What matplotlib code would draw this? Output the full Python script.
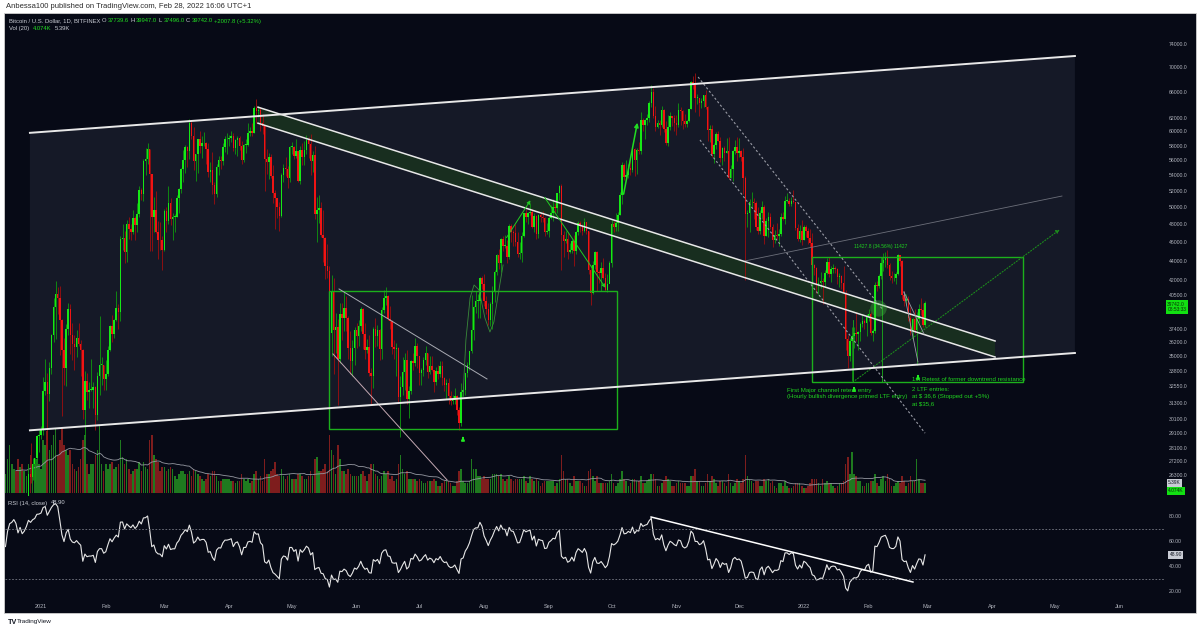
import numpy as np
import pandas as pd
import matplotlib
matplotlib.use("Agg")
import matplotlib.pyplot as plt
import matplotlib.transforms as mtransforms
from matplotlib.patches import Polygon, Rectangle
from matplotlib.ticker import NullLocator

plt.rcParams['font.family'] = ['Liberation Sans', 'DejaVu Sans']

# ---------------- DATA (BTC/USD daily, Bitfinex, prices in thousands USD) ----------------
START_DATE = '2020-12-01'
FIRST_OPEN_K = 19.7

close_k = [
    # Dec 2020
    18.8, 19.2, 19.4, 18.7, 19.1, 19.4, 19.2, 18.3, 18.6, 18.2, 18.0, 18.8, 19.1, 19.2,
    19.4, 21.3, 22.8, 23.1, 23.8, 23.5, 22.7, 23.8, 23.2, 23.7, 24.7, 26.4, 26.2, 27.0, 27.4, 28.9, 29.0,
    # Jan 2021
    29.4, 32.2, 32.9, 32.0, 34.0, 36.8, 39.4, 40.6, 40.2, 38.2, 35.5, 34.0, 37.4, 39.2, 36.8, 36.0,
    35.8, 36.6, 36.0, 35.5, 30.8, 33.0, 32.1, 32.3, 32.3, 32.5, 30.4, 33.4, 34.3, 34.3, 33.1,
    # Feb 2021
    33.5, 35.5, 37.6, 36.9, 38.2, 39.3, 38.9, 46.4, 46.5, 44.9, 48.0, 47.5, 47.1, 48.7,
    47.9, 49.2, 52.2, 51.6, 55.9, 56.1, 57.5, 54.2, 48.9, 49.7, 47.1, 46.3, 46.2, 45.2,
    # Mar 2021
    49.6, 48.4, 50.5, 48.6, 48.9, 48.9, 51.2, 52.3, 54.8, 56.0, 57.8, 57.3, 61.2, 59.3, 55.9, 56.8,
    58.9, 57.9, 58.3, 58.3, 57.5, 54.5, 54.7, 52.8, 51.7, 55.1, 56.0, 55.9, 57.8, 58.9, 58.9,
    # Apr 2021
    59.1, 59.4, 57.6, 58.8, 59.1, 58.0, 56.0, 58.1, 58.1, 59.8, 60.0, 59.8, 63.5, 63.0, 63.1,
    61.3, 60.8, 56.2, 55.7, 56.5, 53.9, 51.8, 51.1, 50.1, 49.0, 54.0, 55.0, 54.8, 53.6, 57.8,
    # May 2021
    57.8, 56.6, 57.2, 53.3, 57.4, 56.4, 57.4, 58.8, 58.2, 55.9, 56.7, 49.2, 49.7, 49.9, 46.8, 46.5,
    43.5, 42.9, 37.0, 40.8, 37.3, 37.5, 34.8, 38.7, 38.4, 39.3, 38.4, 35.7, 34.6, 35.7, 37.3,
    # Jun 2021
    36.7, 37.6, 39.2, 36.9, 35.5, 35.8, 33.6, 33.4, 37.4, 36.7, 37.3, 35.6, 39.1, 40.2, 40.4,
    38.3, 38.1, 35.8, 35.6, 35.7, 31.7, 32.5, 33.7, 34.7, 31.6, 32.2, 34.6, 34.4, 35.9, 35.0,
    # Jul 2021
    33.6, 33.9, 34.7, 35.3, 33.7, 34.2, 33.9, 32.9, 33.8, 33.5, 34.2, 33.2, 32.7, 32.8, 31.8, 31.4,
    31.5, 31.8, 30.8, 29.8, 32.1, 32.3, 33.6, 34.3, 35.4, 37.3, 39.4, 40.0, 40.0, 42.2, 41.6,
    # Aug 2021
    40.0, 39.2, 38.2, 39.7, 40.9, 42.8, 44.6, 43.8, 46.4, 45.6, 45.6, 44.4, 47.8, 47.1, 47.0, 46.0,
    44.7, 44.8, 46.7, 49.3, 48.9, 49.3, 49.5, 47.7, 49.0, 46.9, 49.1, 48.9, 48.8, 47.1, 47.2,
    # Sep 2021
    48.8, 49.3, 50.0, 49.9, 51.8, 52.6, 46.8, 46.1, 46.4, 44.9, 45.2, 46.1, 45.0, 47.1, 48.2,
    47.8, 47.3, 48.3, 47.3, 43.0, 40.7, 43.6, 44.9, 42.8, 42.7, 43.2, 42.2, 41.0, 41.6, 43.8,
    # Oct 2021
    48.1, 47.7, 48.2, 49.1, 51.5, 55.4, 53.8, 54.0, 55.0, 54.7, 57.5, 56.0, 57.4, 57.3, 61.6, 60.9,
    61.6, 62.0, 64.3, 66.0, 62.2, 60.7, 61.3, 60.9, 63.1, 60.3, 58.4, 60.6, 62.3, 61.9, 61.3,
    # Nov 2021
    61.0, 63.2, 63.0, 61.5, 61.1, 61.5, 63.3, 67.6, 67.0, 65.0, 65.0, 64.2, 64.5, 65.5, 63.6,
    60.2, 60.4, 56.9, 58.1, 59.7, 58.7, 56.3, 57.6, 57.0, 57.2, 53.6, 54.8, 57.2, 57.8, 57.0,
    # Dec 2021
    57.2, 56.5, 53.6, 49.2, 49.4, 50.6, 50.7, 50.5, 47.7, 47.2, 49.4, 50.1, 46.7, 48.4, 48.9, 47.7,
    46.2, 46.8, 46.7, 46.9, 48.9, 48.6, 50.8, 50.8, 50.4, 50.8, 50.6, 47.6, 46.4, 47.2, 46.3,
    # Jan 2022
    47.7, 47.3, 46.5, 45.9, 43.6, 43.2, 41.6, 41.7, 41.9, 41.8, 42.7, 43.9, 42.6, 43.1, 43.2, 43.1,
    42.3, 42.4, 41.7, 40.7, 36.5, 35.0, 36.3, 36.7, 37.0, 36.9, 37.1, 37.8, 38.1, 37.9, 38.5,
    # Feb 2022
    38.7, 37.0, 37.2, 41.5, 41.4, 42.4, 43.8, 44.1, 44.3, 43.6, 42.4, 42.2, 42.2, 42.6,
    44.6, 44.0, 40.5, 40.0, 40.1, 38.4, 37.1, 38.3, 37.3, 38.3, 39.2, 39.1, 37.734, 39.742,
]

high_k = [
    19.9, 19.3, 19.6, 19.5, 19.2, 19.4, 19.4, 19.3, 18.6, 18.6, 18.3, 18.9, 19.4, 19.3,
    19.6, 21.5, 23.8, 23.3, 24.2, 24.3, 24.1, 24.0, 24.1, 23.8, 24.8, 26.9, 28.4, 27.4, 27.4, 29.0, 29.3,
    29.6, 33.3, 34.8, 33.6, 34.5, 36.9, 40.2, 41.9, 41.3, 41.4, 38.3, 36.6, 37.8, 39.8, 39.7, 37.9,
    36.8, 37.3, 37.9, 36.4, 35.6, 33.8, 33.6, 32.9, 34.8, 32.9, 32.6, 33.7, 38.5, 34.9, 34.3,
    34.7, 35.9, 37.7, 38.6, 38.3, 40.9, 39.7, 46.7, 48.0, 47.3, 48.5, 48.9, 48.1, 49.7,
    49.0, 50.5, 52.6, 52.4, 56.2, 57.6, 58.4, 57.5, 54.2, 51.3, 52.0, 48.4, 48.3, 46.7,
    49.8, 50.0, 52.6, 51.1, 49.4, 49.2, 51.5, 52.4, 54.9, 57.4, 58.1, 58.0, 61.8, 61.6, 60.6, 56.9,
    58.9, 60.0, 59.4, 59.9, 58.5, 58.4, 55.8, 57.1, 53.1, 55.5, 56.6, 56.6, 58.3, 59.4, 59.8,
    59.5, 60.0, 59.8, 58.9, 59.3, 59.4, 58.7, 58.2, 58.9, 61.2, 60.7, 61.2, 63.8, 64.9, 63.8,
    63.6, 62.5, 61.0, 57.5, 57.0, 56.8, 55.4, 52.1, 51.2, 50.6, 54.3, 55.5, 56.4, 55.2, 58.0,
    58.5, 57.9, 58.9, 57.3, 57.9, 58.4, 58.6, 59.5, 59.2, 59.6, 57.2, 58.0, 51.3, 51.5, 50.7, 49.7,
    46.6, 45.8, 43.5, 42.5, 42.2, 38.8, 38.3, 39.8, 39.8, 40.8, 40.4, 38.5, 37.2, 36.4, 37.5,
    37.9, 38.2, 39.4, 39.3, 37.9, 36.5, 36.8, 34.0, 37.5, 38.4, 37.7, 37.4, 39.4, 41.0, 41.3,
    40.5, 39.5, 38.2, 36.4, 36.1, 35.8, 33.4, 34.9, 35.3, 35.5, 32.6, 34.7, 35.3, 36.6, 36.1,
    35.0, 34.0, 34.9, 35.9, 35.3, 35.0, 35.0, 33.9, 34.1, 34.3, 34.6, 34.6, 33.3, 33.1, 33.2, 32.2,
    31.9, 32.4, 31.9, 31.0, 32.8, 32.6, 33.6, 34.5, 35.4, 40.5, 39.5, 40.9, 40.6, 42.3, 42.4,
    42.6, 40.4, 39.8, 39.9, 41.4, 43.0, 44.7, 45.3, 46.5, 46.7, 46.8, 46.2, 48.1, 48.1, 47.4, 48.0,
    47.1, 46.0, 47.1, 49.4, 49.8, 49.5, 50.5, 49.8, 49.3, 49.1, 49.2, 49.3, 49.6, 48.9, 48.2,
    49.0, 50.3, 51.0, 50.5, 51.8, 52.8, 52.9, 47.3, 47.3, 47.1, 45.9, 46.4, 46.8, 47.2, 48.4,
    48.4, 48.1, 48.8, 48.3, 47.3, 43.6, 44.0, 45.0, 45.0, 43.0, 43.9, 44.3, 42.7, 42.6, 44.0,
    48.5, 48.4, 49.3, 49.5, 51.9, 55.8, 55.6, 56.0, 55.5, 56.5, 57.8, 57.6, 57.7, 58.5, 62.9, 62.0,
    61.8, 62.6, 64.5, 67.0, 66.6, 63.8, 61.7, 61.6, 63.7, 63.3, 61.5, 62.4, 62.9, 62.3, 62.4,
    62.4, 64.2, 63.6, 63.1, 62.6, 61.7, 63.3, 67.7, 68.5, 69.0, 65.6, 65.0, 65.0, 65.5, 66.3,
    63.7, 61.0, 60.9, 58.3, 59.9, 60.0, 59.2, 57.8, 57.9, 59.1, 59.2, 55.3, 57.4, 58.8, 59.2,
    59.0, 57.4, 57.6, 53.9, 49.7, 51.0, 51.9, 51.2, 50.8, 50.0, 49.7, 50.8, 50.3, 48.7, 49.5, 49.4,
    48.0, 47.4, 48.2, 47.5, 49.3, 49.5, 51.4, 51.8, 51.1, 51.3, 52.1, 50.7, 48.1, 47.9, 48.5,
    47.9, 47.9, 47.6, 47.5, 47.0, 43.7, 43.3, 42.3, 42.8, 42.2, 43.0, 44.3, 44.4, 43.4, 43.7, 43.5,
    43.2, 42.7, 42.5, 43.4, 41.0, 36.8, 36.6, 37.5, 37.5, 38.9, 37.2, 38.0, 38.7, 38.3, 38.7,
    39.2, 38.9, 37.4, 41.8, 41.9, 42.6, 44.4, 44.8, 44.9, 45.2, 43.8, 42.9, 42.7, 42.8,
    44.7, 44.6, 44.1, 40.9, 40.6, 40.4, 39.4, 38.4, 39.2, 38.9, 39.7, 40.2, 39.8, 39.947,
]

low_k = [
    18.2, 18.3, 18.9, 18.6, 18.6, 18.9, 18.9, 18.2, 17.7, 17.9, 17.6, 18.0, 18.8, 19.0,
    19.0, 19.3, 21.2, 22.3, 22.8, 23.1, 21.8, 22.4, 22.7, 22.6, 23.4, 24.5, 25.8, 26.0, 25.9, 27.3, 27.8,
    28.7, 29.0, 31.9, 28.1, 31.4, 33.5, 36.2, 36.5, 38.7, 35.1, 30.3, 32.7, 32.6, 36.8, 35.2, 34.7,
    33.9, 34.9, 35.9, 33.4, 30.1, 28.9, 31.5, 30.9, 32.2, 30.9, 29.3, 30.0, 31.9, 32.7, 32.3,
    32.3, 33.4, 35.4, 36.2, 36.6, 38.1, 37.4, 38.1, 45.2, 43.8, 43.9, 46.4, 46.2, 46.9,
    46.3, 47.1, 48.9, 50.9, 50.8, 54.0, 55.5, 45.0, 45.0, 47.1, 47.0, 44.2, 45.1, 43.0,
    45.0, 47.1, 48.1, 47.9, 46.3, 47.1, 48.9, 49.3, 51.8, 53.1, 54.3, 55.1, 56.1, 58.9, 54.7, 53.3,
    54.3, 57.0, 56.3, 57.9, 55.5, 53.8, 53.1, 51.6, 50.4, 51.3, 54.0, 54.8, 55.4, 57.1, 56.9,
    57.9, 58.5, 57.3, 56.9, 56.6, 57.4, 55.5, 55.7, 57.0, 58.0, 59.3, 59.3, 59.8, 61.3, 62.1,
    60.1, 59.6, 52.0, 54.2, 53.5, 53.7, 50.5, 47.5, 48.8, 47.2, 48.9, 53.2, 53.9, 52.4, 53.1,
    56.9, 56.1, 56.3, 53.1, 52.9, 55.3, 55.3, 56.9, 56.3, 54.0, 54.4, 48.6, 46.0, 48.2, 46.6, 43.9,
    42.1, 42.2, 30.0, 35.0, 33.5, 35.3, 31.1, 34.4, 36.4, 37.2, 37.2, 34.8, 33.5, 33.4, 34.3,
    35.7, 35.9, 37.2, 35.6, 34.8, 35.3, 33.4, 31.1, 32.4, 35.8, 35.9, 34.7, 34.8, 38.8, 39.6,
    38.2, 37.4, 35.2, 34.8, 33.4, 31.3, 28.8, 31.9, 32.3, 31.2, 30.2, 32.0, 33.9, 34.2, 34.0,
    32.7, 32.7, 33.4, 34.3, 33.2, 33.5, 33.8, 32.1, 32.7, 33.1, 33.3, 32.7, 32.2, 31.6, 31.2, 31.1,
    31.2, 31.2, 30.4, 29.3, 29.6, 31.8, 31.9, 33.3, 33.9, 35.3, 36.4, 38.8, 38.4, 38.4, 41.1,
    39.5, 38.7, 37.7, 37.6, 37.4, 39.9, 42.5, 43.1, 42.8, 45.0, 45.4, 43.8, 44.2, 46.0, 45.6, 45.6,
    44.4, 44.2, 43.9, 46.6, 48.3, 48.1, 49.1, 47.6, 47.1, 46.4, 46.5, 48.3, 48.3, 46.7, 46.9,
    46.6, 48.6, 48.4, 49.4, 49.4, 50.9, 43.0, 44.4, 45.9, 44.2, 44.8, 44.8, 43.5, 44.7, 46.8,
    47.1, 46.8, 47.1, 46.9, 42.6, 39.6, 40.6, 43.1, 40.9, 41.7, 40.9, 42.1, 40.9, 40.8, 41.7,
    43.3, 47.1, 47.2, 47.2, 49.1, 50.4, 53.4, 53.7, 53.7, 54.1, 54.4, 53.9, 54.2, 56.8, 56.9, 60.1,
    58.9, 60.9, 61.4, 63.6, 62.0, 60.0, 60.5, 59.5, 60.7, 59.9, 58.1, 57.9, 60.2, 60.8, 60.1,
    59.5, 60.7, 60.9, 60.4, 60.7, 60.6, 61.4, 63.3, 66.4, 62.8, 64.1, 62.3, 63.4, 63.6, 63.3,
    58.6, 58.5, 56.5, 55.6, 57.5, 58.6, 55.7, 55.4, 55.9, 57.0, 53.5, 53.6, 53.3, 56.8, 55.9,
    56.5, 55.9, 51.7, 42.0, 47.7, 47.1, 50.1, 48.6, 47.4, 46.9, 46.9, 48.6, 45.8, 46.7, 46.6, 47.5,
    45.5, 45.9, 46.4, 45.6, 46.7, 48.5, 48.1, 50.7, 50.2, 50.2, 50.5, 47.4, 46.1, 46.0, 45.7,
    46.3, 46.6, 45.8, 45.5, 42.6, 42.5, 40.7, 40.6, 41.2, 39.7, 41.3, 42.6, 42.3, 41.8, 42.7, 42.7,
    41.6, 41.3, 41.1, 40.6, 35.5, 34.0, 34.6, 33.0, 35.7, 36.3, 35.5, 36.3, 37.5, 37.4, 36.7,
    38.1, 36.8, 36.3, 37.0, 40.9, 41.2, 42.1, 42.9, 43.3, 43.2, 42.0, 41.7, 41.9, 41.6,
    42.5, 43.4, 40.1, 39.5, 39.6, 38.1, 36.8, 36.5, 37.0, 34.3, 38.0, 38.6, 37.5, 37.496,
]

volume_k = [
    14, 10, 8, 10, 8, 6, 6, 9, 10, 7, 8, 6, 6, 6,
    8, 14, 20, 12, 10, 9, 14, 11, 12, 9, 7, 12, 16, 11, 12, 14, 12,
    10, 22, 20, 26, 18, 20, 24, 28, 16, 22, 30, 20, 18, 16, 18, 12, 10, 9, 11, 14,
    22, 24, 12, 8, 12, 12, 16, 18, 28, 12, 9,
    12, 10, 12, 13, 10, 11, 12, 22, 15, 12, 14, 10, 8, 9, 10, 10, 13, 9, 13, 11,
    10, 22, 24, 16, 14, 13, 9, 11,
    11, 9, 10, 11, 10, 7, 6, 8, 9, 9, 8, 8, 9, 7, 10, 9, 8, 7, 6, 5,
    6, 8, 7, 9, 9, 7, 5, 5, 6, 6, 6,
    6, 5, 5, 4, 5, 5, 8, 6, 5, 6, 4, 5, 8, 9, 6, 7, 5, 14, 8, 8,
    9, 10, 13, 8, 7, 10, 7, 6, 7, 8,
    6, 6, 6, 8, 8, 7, 6, 6, 7, 9, 7, 14, 15, 9, 9, 10, 12, 9, 24, 18,
    16, 8, 20, 14, 9, 9, 8, 10, 8, 7, 7,
    7, 7, 8, 9, 7, 5, 8, 12, 12, 8, 7, 6, 7, 9, 8, 9, 6, 7, 5, 6,
    12, 16, 10, 8, 9, 6, 6, 6, 6, 5,
    6, 5, 4, 4, 5, 5, 5, 6, 5, 3, 3, 4, 5, 5, 5, 4, 3, 3, 5, 9,
    10, 5, 4, 4, 5, 14, 10, 10, 7, 7, 6,
    7, 6, 6, 6, 8, 8, 8, 7, 8, 6, 5, 6, 7, 6, 5, 6, 6, 6, 6, 7,
    5, 4, 7, 6, 5, 6, 5, 3, 4, 5, 5,
    5, 5, 5, 3, 4, 6, 16, 9, 6, 6, 4, 3, 7, 5, 5, 5, 4, 3, 3, 9,
    10, 7, 5, 7, 4, 4, 4, 4, 4, 5,
    8, 4, 3, 4, 6, 9, 6, 5, 3, 4, 6, 6, 5, 5, 7, 4, 4, 5, 6, 8,
    8, 6, 3, 3, 4, 5, 7, 6, 5, 3, 3,
    4, 5, 4, 4, 4, 3, 3, 7, 7, 10, 5, 5, 3, 3, 4, 8, 5, 7, 6, 4,
    3, 5, 5, 4, 3, 8, 4, 3, 4, 6,
    5, 4, 6, 16, 7, 6, 5, 4, 5, 5, 3, 3, 6, 5, 6, 4, 5, 3, 2, 4,
    4, 3, 5, 3, 2, 2, 3, 4, 4, 4, 3,
    2, 2, 3, 4, 6, 6, 6, 4, 3, 6, 4, 5, 4, 4, 3, 2, 3, 4, 4, 5,
    12, 15, 8, 17, 8, 7, 5, 5, 3, 3, 4,
    4, 5, 5, 8, 4, 3, 6, 7, 5, 8, 6, 3, 3, 4, 5, 4, 7, 5, 3, 4,
    7, 5, 5, 14, 6, 4, 4, 4.074,
]

month_labels = ['2021', 'Feb', 'Mar', 'Apr', 'May', 'Jun', 'Jul', 'Aug', 'Sep', 'Oct', 'Nov', 'Dec',
                '2022', 'Feb', 'Mar', 'Apr', 'May', 'Jun']
price_ticks = [74000, 70000, 66000, 62000, 60000, 58000, 56000, 54000, 52000, 50000, 48000, 46000,
               44000, 42000, 40500, 37400, 36200, 35000, 33800, 32550, 31300, 30100, 29100, 28100,
               27200, 26300]
rsi_ticks = [20, 40, 60, 80]

# Drawings (x = days since 2021-01-01, y = price in USD)
main_channel_x = [-5.3, 494.7]
main_channel_top = [59800, 71900]
main_channel_bot = [29300, 35270]
down_channel_x = [103.8, 456.5]
down_channel_top = [63600, 36300]
down_channel_bot = [61200, 34930]
box_left = (137.8, 275.6, 29400, 40900)
box_right = (369.0, 470.0, 32900, 44400)
rsi_trend_x = [291.9, 417.2]
rsi_trend_y = [79.2, 27.2]

# ---------------- DERIVED ----------------
n = len(close_k)
assert len(high_k) == n and len(low_k) == n and len(volume_k) == n, (n, len(high_k), len(low_k), len(volume_k))
dates = pd.date_range(START_DATE, periods=n, freq='D')
day = (dates - pd.Timestamp('2021-01-01')).days.values.astype(float)
close = np.array(close_k) * 1000
high = np.array(high_k) * 1000
low = np.array(low_k) * 1000
opn = np.r_[FIRST_OPEN_K * 1000, close[:-1]]
opn[-1] = 37739.6
vol = np.array(volume_k, dtype=float)


def rma(x, length=14):
    out = np.full(len(x), np.nan)
    out[length - 1] = x[:length].mean()
    for i in range(length, len(x)):
        out[i] = (out[i - 1] * (length - 1) + x[i]) / length
    return out


delta = np.diff(close)
avg_g = rma(np.clip(delta, 0, None))
avg_l = rma(np.clip(-delta, 0, None))
rsi = np.r_[np.nan, 100 - 100 / (1 + avg_g / avg_l)]
vol_ma = pd.Series(vol).rolling(20).mean().values

# ---------------- FIGURE ----------------
W, H = 1200, 630
BG = '#070a16'
CHAN = '#151927'
UP, DN = '#16e816', '#f01414'
WUP, WDN = '#0f9a0f', '#a00e0e'
VUP, VDN = '#1f7a1f', '#7e1d1d'
GREEN_TXT = '#1fd41f'
BOX_GREEN = '#1cb01c'
AXC = '#b2b5be'


def fx(px):
    return px / W


def fy(py):
    return 1 - py / H


fig = plt.figure(figsize=(12, 6.3), dpi=100, facecolor='white')
fig.patches.append(Rectangle((fx(4), fy(613)), fx(1196) - fx(4), fy(13) - fy(613),
                             transform=fig.transFigure, facecolor=BG, edgecolor='#cfcfcf',
                             lw=0.6, zorder=-5))

XL = ((5 - 41) / 2.09, (1165 - 41) / 2.09)
price_rect = [fx(5), fy(496), fx(1165) - fx(5), fy(13) - fy(496)]
rsi_rect = [fx(5), fy(598), fx(1165) - fx(5), fy(497) - fy(598)]

# volume (behind)
axv = fig.add_axes(price_rect)
axv.set_facecolor(BG)
axv.set_xlim(*XL)
axv.set_ylim(-1.25, 200)
upv = close >= opn
axv.bar(day, vol, width=0.75, color=np.where(upv, VUP, VDN), lw=0)
axv.plot(day, vol_ma, color='#9598a1', lw=0.6)
axv.axis('off')

# price
ax = fig.add_axes(price_rect)
ax.patch.set_alpha(0)
ax.set_yscale('log')
ax.set_xlim(*XL)
ax.set_ylim(25030, 79710)
for s in ax.spines.values():
    s.set_visible(False)
ax.yaxis.tick_right()
ax.set_yticks(price_ticks)
ax.set_yticklabels([f'{t:.1f}' for t in price_ticks])
ax.yaxis.set_minor_locator(NullLocator())
ax.tick_params(axis='y', length=0, pad=3, labelsize=3.7, labelcolor=AXC)
ax.set_xticks([])

# main rising channel
ax.add_patch(Polygon([(main_channel_x[0], main_channel_top[0]), (main_channel_x[1], main_channel_top[1]),
                      (main_channel_x[1], main_channel_bot[1]), (main_channel_x[0], main_channel_bot[0])],
                     closed=True, fc=CHAN, ec='none', zorder=0))
ax.plot(main_channel_x, main_channel_top, color='#e8e8e8', lw=1.4, zorder=6)
ax.plot(main_channel_x, main_channel_bot, color='#e8e8e8', lw=1.4, zorder=6)

# descending channel
ax.add_patch(Polygon([(down_channel_x[0], down_channel_top[0]), (down_channel_x[1], down_channel_top[1]),
                      (down_channel_x[1], down_channel_bot[1]), (down_channel_x[0], down_channel_bot[0])],
                     closed=True, fc='#19301f', ec='none', alpha=0.95, zorder=1))
ax.plot(down_channel_x, down_channel_top, color='#e8e8e8', lw=1.1, zorder=6)
ax.plot(down_channel_x, down_channel_bot, color='#e8e8e8', lw=1.1, zorder=6)

# boxes
for (x0, x1, p0, p1) in (box_left, box_right):
    ax.add_patch(Rectangle((x0, p0), x1 - x0, p1 - p0, fill=False, ec=BOX_GREEN, lw=1.0, zorder=5))
ax.plot([388.5, 388.5], [32900, 38190], color=BOX_GREEN, lw=0.6, zorder=5)
ax.plot([402.4, 402.4], [32900, 44400], color=BOX_GREEN, lw=0.6, zorder=5)

# candles
up = close >= opn
bot = np.minimum(opn, close)
top = np.maximum(opn, close)
hgt = np.maximum(top - bot, bot * 0.0015)
ax.vlines(day, low, high, colors=np.where(up, WUP, WDN), lw=0.6, zorder=3)
ax.bar(day, hgt, bottom=bot, width=0.72, color=np.where(up, UP, DN), lw=0, zorder=4)

# other drawings
ax.plot([142.6, 213.4], [41120, 33140], color='#a9abb3', lw=0.7, zorder=5)
ax.plot([139.7, 194.3], [35190, 26010], color='#c4a9b3', lw=0.7, zorder=5)
curve_x = [201.9, 203.3, 205.3, 207.2, 209.6, 212.4, 214.8, 216.7, 218.7, 221.1]
curve_y = [31740, 36390, 40250, 41520, 41020, 38360, 37090, 37990, 40540, 43560]
ax.plot(curve_x, curve_y, color='#3a8a3a', lw=0.6, zorder=5)
arrow_kw = dict(arrowstyle='-|>', color='#22cc22', lw=0.7, mutation_scale=5)
ax.annotate('', xy=(234.9, 51150), xytext=(222.0, 46250), arrowprops=arrow_kw, zorder=7)
ax.annotate('', xy=(270.8, 41020), xytext=(240.2, 51520), arrowprops=arrow_kw, zorder=7)
ax.annotate('', xy=(285.6, 61670), xytext=(278.5, 51280),
            arrowprops=dict(arrowstyle='-|>', color='#22dd22', lw=1.1, mutation_scale=6), zorder=7)
ax.plot([314.4, 402.9], [68370, 39100], color='#9a9ca6', lw=0.8, ls=(0, (2, 2)), zorder=5)
ax.plot([315.3, 423.0], [58790, 29100], color='#9a9ca6', lw=0.8, ls=(0, (2, 2)), zorder=5)
ax.plot([336.8, 488.5], [43980, 51390], color='#6c6f7a', lw=0.6, zorder=5)
ax.annotate('', xy=(488.5, 47600), xytext=(388.5, 32900),
            arrowprops=dict(arrowstyle='-|>', color='#1c8c1c', lw=0.8, ls=':', mutation_scale=5), zorder=5)
ax.plot([412.9, 422.5], [40830, 36910], color='#9a9ca6', lw=0.6, zorder=7)
ax.plot([412.9, 419.6], [40830, 34520], color='#9a9ca6', lw=0.6, zorder=7)
ax.scatter([400.5], [39290], s=140, color='#3fbf3f', alpha=0.35, lw=0, zorder=7)
for (d, p) in [(201.9, 29050), (389.0, 32740), (419.6, 33700)]:
    ax.annotate('', xy=(d, p), xytext=(0, -5), textcoords='offset points',
                arrowprops=dict(arrowstyle='-|>', color='#22ee22', lw=1.3, mutation_scale=4), zorder=8)

tkw = dict(color=GREEN_TXT, fontsize=4.4, zorder=9, parse_math=False)
ax.text(401.9, 45480, '11427.8 (34.56%) 11427', ha='center', va='center',
        color=GREEN_TXT, fontsize=3.5, zorder=9, parse_math=False)
ax.text(416.7, 33060, '1st Retest of former downtrend resistance', ha='left', va='center', **tkw)
ax.text(356.9, 32200, 'First Major channel retest entry', ha='left', va='center', **tkw)
ax.text(356.9, 31740, '(Hourly bullish divergence primed LTF entry)', ha='left', va='center', **tkw)
ax.text(416.7, 32350, '2 LTF entries:', ha='left', va='center', **tkw)
ax.text(416.7, 31740, 'at $ 36,6 (Stopped out +5%)', ha='left', va='center', **tkw)
ax.text(416.7, 31210, 'at $35,6', ha='left', va='center', **tkw)

# current price label
blend = mtransforms.blended_transform_factory(ax.transAxes, ax.transData)
off = mtransforms.ScaledTranslation(0, -3.5 / 100, fig.dpi_scale_trans)
ax.text(1.002, close[-1], f'{close[-1]:.1f}\n08:53:33', transform=blend + off, ha='left', va='center',
        fontsize=3.5, color='#0a2a0a', linespacing=1.1, clip_on=False, zorder=10,
        bbox=dict(boxstyle='square,pad=0.35', fc='#12e012', ec='none'))

# RSI pane
axr = fig.add_axes(rsi_rect)
axr.set_facecolor(BG)
axr.set_xlim(*XL)
axr.set_ylim(14.4, 95.2)
for s in axr.spines.values():
    s.set_visible(False)
axr.plot(day, rsi, color='#e6e6e6', lw=0.8)
for lvl in (70, 30):
    axr.axhline(lvl, color='#787b86', lw=0.6, ls=(0, (2, 2)))
axr.plot(rsi_trend_x, rsi_trend_y, color='white', lw=1.1)
axr.yaxis.tick_right()
axr.set_yticks(rsi_ticks)
axr.set_yticklabels([f'{t:.2f}' for t in rsi_ticks])
axr.tick_params(axis='y', length=0, pad=3, labelsize=3.7, labelcolor=AXC)
mstarts = pd.date_range('2021-01-01', '2022-06-01', freq='MS')
axr.set_xticks((mstarts - pd.Timestamp('2021-01-01')).days.values)
axr.set_xticklabels(month_labels)
axr.tick_params(axis='x', length=0, pad=4, labelsize=4.0, labelcolor=AXC)
blend_r = mtransforms.blended_transform_factory(axr.transAxes, axr.transData)
axr.text(1.004, 48.9, '48.90', transform=blend_r, ha='left', va='center', fontsize=3.5,
         color='#131722', clip_on=False, bbox=dict(boxstyle='square,pad=0.3', fc='#c9ccd4', ec='none'))

# volume labels
fig.text(fx(1168), fy(483), '5.39K', fontsize=3.5, color='#131722', va='center', ha='left',
         bbox=dict(boxstyle='square,pad=0.3', fc='#c9ccd4', ec='none'))
fig.text(fx(1168), fy(491), '4.074K', fontsize=3.5, color='#0a2a0a', va='center', ha='left',
         bbox=dict(boxstyle='square,pad=0.3', fc='#12e012', ec='none'))

# header / legends
renderer = fig.canvas.get_renderer()


def text_run(x_px, y_px, pieces, size, gap=2.5):
    x = x_px
    for s, c in pieces:
        t = fig.text(fx(x), fy(y_px), s, color=c, fontsize=size, va='center', ha='left', parse_math=False)
        x += t.get_window_extent(renderer=renderer).width + gap


fig.text(fx(6), fy(6.5), 'Anbessa100 published on TradingView.com, Feb 28, 2022 16:06 UTC+1',
         fontsize=5.5, color='#2b2b2b', va='center', ha='left')
G, L = '#22dd22', '#c9ccd4'
text_run(9, 21, [('Bitcoin / U.S. Dollar, 1D, BITFINEX', L), ('O', L), ('37739.6', G), ('H', L),
                 ('39947.0', G), ('L', L), ('37496.0', G), ('C', L), ('39742.0', G),
                 ('+2007.8 (+5.32%)', G)], 4.2, gap=1.5)
text_run(9, 28.5, [('Vol (20)', L), ('4.074K', G), ('5.39K', L)], 4.2, gap=3.5)
text_run(8, 503, [('RSI (14, close)', L), ('48.90', L)], 4.2, gap=3.5)

fig.text(fx(8), fy(622), 'TV', fontsize=5.2, fontweight='bold', color='#131722', va='center', ha='left')
fig.text(fx(17), fy(622), 'TradingView', fontsize=4.6, color='#131722', va='center', ha='left')

fig.savefig('out.png', dpi=100, facecolor='white')
